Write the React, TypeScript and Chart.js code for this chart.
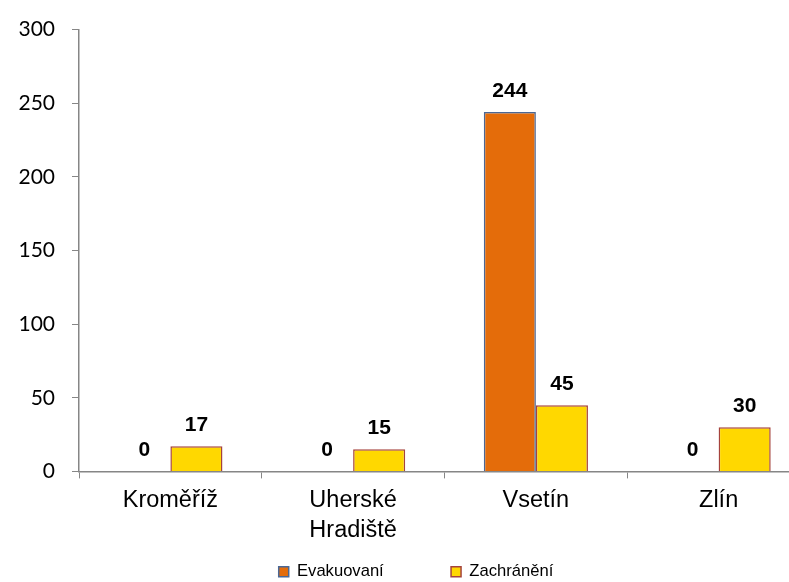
import React, { useEffect, useRef } from "react";
import { Chart, registerables } from "chart.js";

Chart.register(...registerables);

const categories: (string | string[])[] = ["Kroměříž", ["Uherské", "Hradiště"], "Vsetín", "Zlín"];
const evakuovani = [0, 0, 244, 0];
const zachraneni = [17, 15, 45, 30];
const seriesNames = ["Evakuovaní", "Zachránění"];
const yMin = 0;
const yMax = 300;
const yStep = 50;

const valueLabels = {
  id: "valueLabels",
  afterDatasetsDraw(chart: any) {
    const ctx = chart.ctx;
    ctx.save();
    ctx.font = 'bold 21px "Liberation Sans", Arial, sans-serif';
    ctx.fillStyle = "#000";
    ctx.textAlign = "center";
    ctx.textBaseline = "alphabetic";
    chart.data.datasets.forEach((ds: any, i: number) => {
      const meta = chart.getDatasetMeta(i);
      meta.data.forEach((el: any, j: number) => {
        ctx.fillText(String(ds.data[j]), el.x, el.y - 15.5);
      });
    });
    ctx.restore();
  },
};

const legendShift = {
  id: "legendShift",
  afterLayout(chart: any) {
    if (chart.legend) {
      chart.legend.left += 11;
      chart.legend.right += 11;
    }
  },
};

export default function App() {
  const ref = useRef<HTMLCanvasElement | null>(null);

  useEffect(() => {
    document.body.style.margin = "0";
    document.documentElement.style.overflow = "hidden";
    document.body.style.overflow = "hidden";
    if (!ref.current) return;
    const axisColor = "#868686";
    const chart = new Chart(ref.current, {
      type: "bar",
      data: {
        labels: categories,
        datasets: [
          {
            label: seriesNames[0] + "            ",
            data: evakuovani,
            backgroundColor: "#E46C0A",
            borderColor: "#4A6795",
            borderWidth: 1.5,
          },
          {
            label: seriesNames[1],
            data: zachraneni,
            backgroundColor: "#FFD800",
            borderColor: "#A5433D",
            borderWidth: 1.5,
          },
        ],
      },
      plugins: [valueLabels, legendShift],
      options: {
        animation: false,
        responsive: false,
        devicePixelRatio: 1,
        layout: { padding: { top: 27, right: 20, bottom: 0, left: 0 } },
        datasets: {
          bar: { categoryPercentage: 0.57, barPercentage: 1 },
        },
        plugins: {
          title: { display: false },
          tooltip: { enabled: false },
          legend: {
            position: "bottom",
            labels: {
              boxWidth: 10,
              boxHeight: 10,
              padding: 12,
              color: "#000",
              font: { family: '"Liberation Sans", Arial, sans-serif', size: 16.6 },
            },
          },
        },
        scales: {
          x: {
            grid: {
              display: true,
              offset: true,
              drawOnChartArea: false,
              drawTicks: true,
              tickLength: 7,
              color: axisColor,
              tickColor: axisColor,
            },
            border: { display: true, color: axisColor, width: 1.5 },
            ticks: {
              color: "#000",
              padding: 8,
              maxRotation: 0,
              autoSkip: false,
              font: { family: '"Liberation Sans", Arial, sans-serif', size: 23.5, lineHeight: 1.24 },
            },
            afterFit: (scale: any) => {
              scale.height = 80;
            },
          },
          y: {
            min: yMin,
            max: yMax,
            grid: {
              display: true,
              drawOnChartArea: false,
              drawTicks: true,
              tickLength: 7,
              color: axisColor,
              tickColor: axisColor,
            },
            border: { display: true, color: axisColor, width: 1.5 },
            ticks: {
              stepSize: yStep,
              color: "#000",
              padding: 17,
              font: { family: 'Lato, "Liberation Sans", sans-serif', size: 21 },
            },
            afterFit: (scale: any) => {
              scale.width = 79;
            },
          },
        },
      },
    });
    return () => chart.destroy();
  }, []);

  return (
    <div style={{ width: 830, height: 590, position: "relative" }}>
      <canvas ref={ref} width={830} height={590} style={{ display: "block" }} />
    </div>
  );
}
